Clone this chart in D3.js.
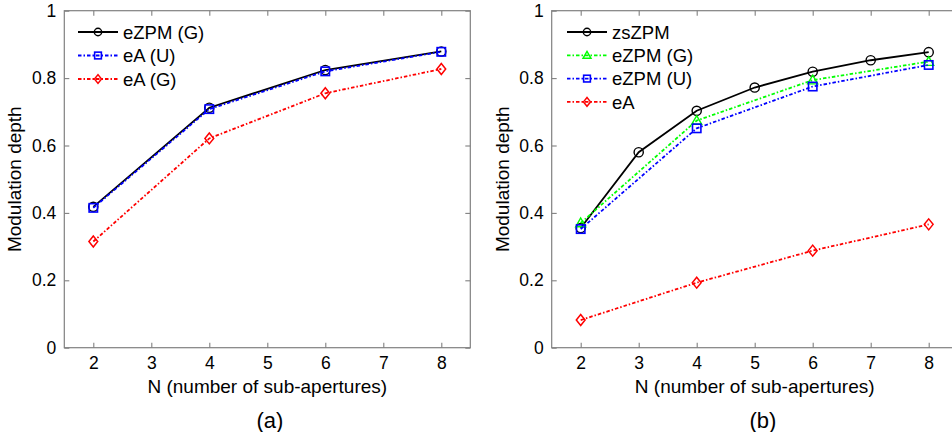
<!DOCTYPE html>
<html><head><meta charset="utf-8">
<script src="https://cdn.jsdelivr.net/npm/d3@7"></script>
<style>
body{margin:0;background:#fff;}
svg{display:block;font-family:"Liberation Sans",Arial,sans-serif;}
</style></head>
<body><svg id="c" width="952" height="432"></svg>
<script>
// ---- data ----
const xTicks = [2,3,4,5,6,7,8];
const xTickLabels = ["2","3","4","5","6","7","8"];
const yTicks = [0,0.2,0.4,0.6,0.8,1];
const yTickLabels = ["0","0.2","0.4","0.6","0.8","1"];

const nA = [2,4,6,8];
const a_eZPM_G = [0.418,0.712,0.824,0.879];
const a_eA_U   = [0.415,0.708,0.820,0.878];
const a_eA_G   = [0.315,0.621,0.755,0.827];

const nB_full = [2,3,4,5,6,7,8];
const b_zsZPM  = [0.355,0.580,0.703,0.772,0.819,0.853,0.877];
const nB = [2,4,6,8];
const b_eZPM_G = [0.370,0.674,0.794,0.849];
const b_eZPM_U = [0.352,0.651,0.775,0.839];
const b_eA     = [0.082,0.193,0.288,0.366];

const panels = [
  {left:64.3, label:"(a)", labelX:270, series:[
    {name:"eZPM (G)", x:nA, y:a_eZPM_G, color:"#000", dash:null, marker:"circle"},
    {name:"eA (U)", x:nA, y:a_eA_U, color:"#0000ff", dash:"3.5,2,1.5,2", marker:"square"},
    {name:"eA (G)", x:nA, y:a_eA_G, color:"#ff0000", dash:"3.5,2,1.5,2", marker:"diamond"}
  ], legend:{x:78, y:32, dy:23.5}},
  {left:551.7, label:"(b)", labelX:763, series:[
    {name:"zsZPM", x:nB_full, y:b_zsZPM, color:"#000", dash:null, marker:"circle"},
    {name:"eZPM (G)", x:nB, y:b_eZPM_G, color:"#00ff00", dash:"3.5,2,1.5,2", marker:"triangle"},
    {name:"eZPM (U)", x:nB, y:b_eZPM_U, color:"#0000ff", dash:"3.5,2,1.5,2", marker:"square"},
    {name:"eA", x:nB, y:b_eA, color:"#ff0000", dash:"3.5,2,1.5,2", marker:"diamond"}
  ], legend:{x:567, y:32, dy:23.3}}
];

const svg = d3.select("#c");
const plotTop = 10.7, plotBottom = 347.7, pxPerUnit = 58;
const axisColor = "#808080";

function drawMarker(g, type, cx, cy, color, small){
  const s = small ? 0.8 : 1;
  if(type==="circle"){
    g.append("circle").attr("cx",cx).attr("cy",cy).attr("r",4.6*s)
      .attr("fill","none").attr("stroke",color).attr("stroke-width",1.4);
  } else if(type==="square"){
    const h=4.2*s;
    g.append("rect").attr("x",cx-h).attr("y",cy-h).attr("width",2*h).attr("height",2*h)
      .attr("fill","none").attr("stroke",color).attr("stroke-width",1.6);
  } else if(type==="diamond"){
    const h=5.5*s;
    g.append("path").attr("d",`M${cx},${cy-h}L${cx+h*0.8},${cy}L${cx},${cy+h}L${cx-h*0.8},${cy}Z`)
      .attr("fill","none").attr("stroke",color).attr("stroke-width",1.5);
  } else if(type==="triangle"){
    const h=5*s;
    g.append("path").attr("d",`M${cx},${cy-h}L${cx+h},${cy+h*0.75}L${cx-h},${cy+h*0.75}Z`)
      .attr("fill","none").attr("stroke",color).attr("stroke-width",1.4);
  }
}

panels.forEach(p=>{
  const x = d3.scaleLinear().domain([1.5,8.5]).range([p.left, p.left+7*pxPerUnit]);
  const y = d3.scaleLinear().domain([0,1]).range([plotBottom, plotTop]);
  const g = svg.append("g");

  const x0=x.range()[0], x1=x.range()[1];
  g.append("rect").attr("x",x0).attr("y",plotTop).attr("width",x1-x0).attr("height",plotBottom-plotTop)
    .attr("fill","none").attr("stroke",axisColor).attr("stroke-width",1.2);

  const xb = g.append("g").attr("transform",`translate(0,${plotBottom})`)
    .call(d3.axisBottom(x).tickValues(xTicks).tickFormat((d,i)=>xTickLabels[i]).tickSizeInner(-5).tickSizeOuter(0).tickPadding(9));
  const xt = g.append("g").attr("transform",`translate(0,${plotTop})`)
    .call(d3.axisTop(x).tickValues(xTicks).tickSizeInner(-5).tickSizeOuter(0).tickFormat(""));
  const yl = g.append("g").attr("transform",`translate(${x0},0)`)
    .call(d3.axisLeft(y).tickValues(yTicks).tickFormat((d,i)=>yTickLabels[i]).tickSizeInner(-5).tickSizeOuter(0).tickPadding(8));
  const yr = g.append("g").attr("transform",`translate(${x1},0)`)
    .call(d3.axisRight(y).tickValues(yTicks).tickSizeInner(-5).tickSizeOuter(0).tickFormat(""));
  [xb,xt,yl,yr].forEach(a=>{
    a.select(".domain").remove();
    a.selectAll(".tick line").attr("stroke",axisColor).attr("stroke-width",1.1);
    a.selectAll(".tick text").attr("fill","#000").style("font-size","17.5px").style("font-family","'Liberation Sans',Arial,sans-serif");
  });

  g.append("text").attr("x",(x(2)+x(8))/2).attr("y",393).attr("text-anchor","middle")
    .style("font-size","19px").text("N (number of sub-apertures)");
  g.append("text").attr("transform",`translate(${x0-43},${(plotTop+plotBottom)/2}) rotate(-90)`)
    .attr("text-anchor","middle").style("font-size","19px").text("Modulation depth");
  g.append("text").attr("x",p.labelX).attr("y",428).attr("text-anchor","middle")
    .style("font-size","22px").text(p.label);

  const line = d3.line().x(d=>x(d[0])).y(d=>y(d[1]));
  p.series.forEach(s=>{
    const pts = s.x.map((v,i)=>[v,s.y[i]]);
    g.append("path").attr("d",line(pts)).attr("fill","none").attr("stroke",s.color)
      .attr("stroke-width",1.8).attr("stroke-dasharray",s.dash);
    pts.forEach(d=>drawMarker(g,s.marker,x(d[0]),y(d[1]),s.color,false));
  });

  p.series.forEach((s,i)=>{
    const ly = p.legend.y + i*p.legend.dy;
    g.append("line").attr("x1",p.legend.x).attr("x2",p.legend.x+40).attr("y1",ly).attr("y2",ly)
      .attr("stroke",s.color).attr("stroke-width",1.8).attr("stroke-dasharray",s.dash);
    drawMarker(g,s.marker,p.legend.x+20,ly,s.color,true);
    g.append("text").attr("x",p.legend.x+45).attr("y",ly).attr("dy","0.36em")
      .style("font-size","18.5px").text(s.name);
  });
});
</script></body></html>
